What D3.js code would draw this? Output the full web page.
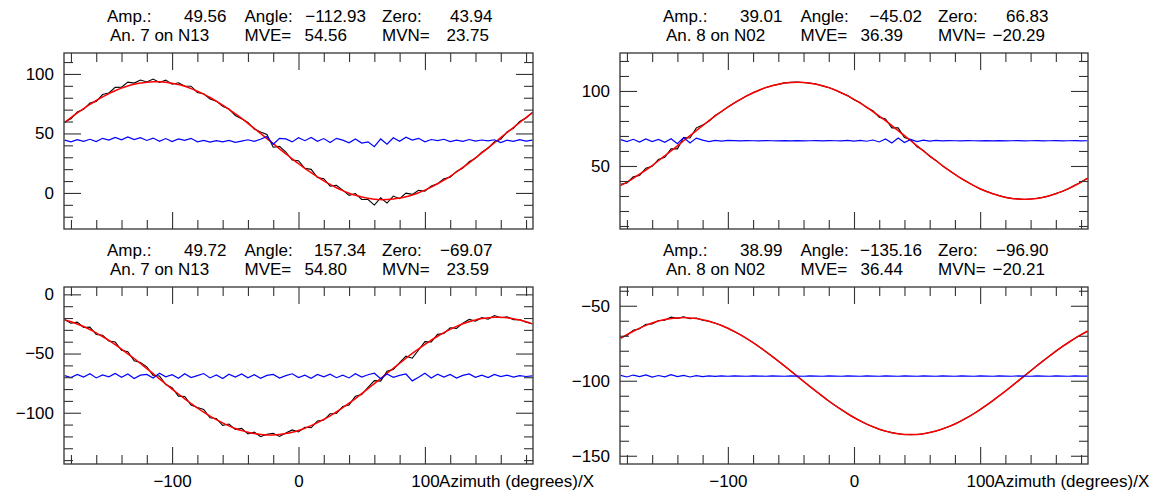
<!DOCTYPE html>
<html><head><meta charset="utf-8">
<script src="https://cdn.jsdelivr.net/npm/d3@7"></script>
<style>
body{margin:0;background:#fff;}
svg{display:block;}
</style>
</head><body>
<svg id="c" width="1166" height="490"></svg>
<script>
// ---------- data ----------
const azimuth = [-185,-180,-175,-170,-165,-160,-155,-150,-145,-140,-135,-130,-125,-120,-115,-110,-105,-100,-95,-90,-85,-80,-75,-70,-65,-60,-55,-50,-45,-40,-35,-30,-25,-20,-15,-10,-5,0,5,10,15,20,25,30,35,40,45,50,55,60,65,70,75,80,85,90,95,100,105,110,115,120,125,130,135,140,145,150,155,160,165,170,175,180,185];

// top-left panel (An. 7 on N13, first)
const fitTL = [59.2,63.3,67.2,70.9,74.4,77.7,80.7,83.5,85.9,88.1,89.9,91.3,92.4,93.1,93.5,93.4,93.0,92.2,91.1,89.6,87.7,85.5,83.0,80.2,77.1,73.8,70.3,66.5,62.6,58.5,54.3,50.0,45.7,41.4,37.1,32.9,28.7,24.6,20.7,17.0,13.5,10.2,7.2,4.4,1.9,-0.2,-2.0,-3.4,-4.5,-5.2,-5.6,-5.5,-5.1,-4.3,-3.2,-1.7,0.2,2.4,4.9,7.7,10.7,14.0,17.6,21.4,25.3,29.4,33.6,37.9,42.2,46.5,50.8,55.0,59.2,63.3,67.2];
const measTL = [59.7,62.3,68.0,70.3,75.6,76.9,82.7,84.0,88.7,88.9,93.1,92.3,94.9,93.3,95.7,92.9,94.8,91.4,92.6,89.9,89.7,84.5,83.3,79.0,77.1,72.8,70.5,65.1,62.3,59.3,53.7,51.2,49.2,38.4,39.1,34.4,27.7,27.1,20.7,19.8,13.0,12.0,5.7,6.4,2.4,-2.0,-0.5,-5.4,-5.5,-10.2,-4.1,-8.5,-2.6,-4.8,-0.2,-1.2,2.2,1.4,5.9,7.7,11.9,13.2,18.1,20.9,26.3,29.1,34.2,37.7,43.0,45.0,51.2,54.4,60.1,63.0,67.7];
const residTL = [44.4,42.9,44.7,43.3,45.1,43.1,45.9,44.4,46.7,44.7,47.1,44.9,46.4,44.1,46.1,43.4,45.7,43.1,45.4,44.2,45.9,42.9,44.2,42.7,43.9,42.9,44.1,42.5,43.6,44.7,43.3,45.1,47.4,40.9,45.9,45.4,42.9,46.4,43.9,46.7,43.4,45.7,42.4,45.9,44.4,42.1,45.4,41.9,42.9,38.9,45.4,40.9,46.4,43.4,46.9,44.4,45.9,42.9,44.9,43.9,45.1,43.1,44.4,43.4,44.9,43.6,44.5,43.7,44.7,42.4,44.3,43.3,44.8,43.6,44.4];

// top-right panel (An. 8 on N02, first)
const fitTR = [37.0,39.3,41.8,44.5,47.3,50.3,53.5,56.8,60.1,63.4,66.8,70.2,73.6,76.9,80.2,83.4,86.4,89.2,91.9,94.4,96.7,98.8,100.6,102.2,103.5,104.5,105.3,105.7,105.8,105.7,105.2,104.5,103.5,102.2,100.6,98.8,96.7,94.4,91.9,89.2,86.3,83.3,80.2,76.9,73.6,70.2,66.8,63.4,60.0,56.7,53.5,50.3,47.3,44.4,41.7,39.2,36.9,34.8,33.0,31.5,30.2,29.2,28.4,28.0,27.8,28.0,28.4,29.2,30.2,31.5,33.1,34.9,37.0,39.3,41.8];
const measTR = [37.8,38.7,42.8,43.7,48.5,49.8,54.4,55.8,61.4,61.4,69.0,68.7,75.4,77.3,79.7,83.7,86.2,89.4,92.0,94.3,96.8,98.8,100.5,102.3,103.5,104.4,105.4,105.7,105.9,105.6,105.2,104.6,103.4,102.3,100.6,98.7,96.9,94.2,92.2,88.9,86.8,82.5,81.4,75.4,75.4,69.0,67.7,62.8,60.4,56.5,53.7,50.2,47.4,44.4,41.6,39.3,36.9,34.7,33.1,31.5,30.3,29.1,28.4,28.1,27.7,28.0,28.5,29.1,30.2,31.6,33.0,34.9,37.1,39.2,41.8];
const residTR = [67.6,66.2,67.8,66.0,68.0,66.3,67.7,65.8,68.1,64.8,69.0,65.3,68.6,67.2,66.3,67.1,66.6,67.0,66.9,66.7,66.9,66.8,66.7,66.9,66.8,66.7,66.9,66.8,66.9,66.7,66.8,66.9,66.7,66.9,66.8,66.7,67.0,66.6,67.1,66.5,67.3,66.0,68.0,65.3,68.6,65.6,67.7,66.2,67.2,66.6,67.0,66.7,66.9,66.8,66.7,66.9,66.8,66.7,66.9,66.8,66.9,66.7,66.8,66.9,66.7,66.8,66.9,66.7,66.8,66.9,66.7,66.8,66.9,66.7,66.8];

// bottom-left panel (An. 7 on N13, second)
const fitBL = [-21.7,-23.2,-25.0,-27.2,-29.7,-32.5,-35.6,-38.9,-42.5,-46.3,-50.2,-54.2,-58.4,-62.7,-67.0,-71.4,-75.7,-80.0,-84.2,-88.3,-92.2,-96.0,-99.5,-102.8,-105.8,-108.6,-111.1,-113.3,-115.1,-116.5,-117.6,-118.4,-118.8,-118.8,-118.4,-117.6,-116.5,-115.0,-113.1,-110.9,-108.4,-105.6,-102.6,-99.3,-95.7,-91.9,-88.0,-83.9,-79.7,-75.4,-71.1,-66.7,-62.4,-58.2,-54.0,-49.9,-46.0,-42.3,-38.7,-35.4,-32.3,-29.6,-27.1,-24.9,-23.1,-21.6,-20.5,-19.8,-19.4,-19.4,-19.8,-20.6,-21.7,-23.2,-25.0];
const measBL = [-21.2,-24.4,-23.5,-28.0,-27.7,-34.0,-34.6,-39.4,-40.3,-47.3,-48.4,-56.2,-57.6,-61.2,-68.5,-68.9,-76.2,-78.8,-86.0,-86.3,-93.4,-95.5,-97.3,-104.3,-104.8,-110.6,-109.5,-114.1,-113.2,-117.9,-116.4,-120.2,-118.2,-117.3,-120.0,-117.2,-114.5,-116.2,-112.3,-112.7,-107.0,-106.2,-100.9,-100.6,-94.8,-93.4,-86.0,-84.7,-78.5,-72.9,-73.3,-64.9,-63.4,-57.6,-52.2,-53.9,-47.0,-39.9,-40.2,-33.8,-33.1,-28.2,-28.7,-24.3,-21.2,-22.6,-19.7,-21.0,-17.9,-19.8,-18.9,-21.4,-21.2,-23.5,-24.8];
const residBL = [-68.6,-70.3,-67.6,-69.9,-67.1,-70.6,-68.1,-69.6,-66.9,-70.1,-67.3,-71.1,-68.3,-67.6,-70.6,-66.6,-69.6,-67.9,-70.9,-67.1,-70.3,-68.6,-66.9,-70.6,-68.1,-71.1,-67.5,-69.9,-67.2,-70.5,-67.9,-70.9,-68.5,-67.6,-70.7,-68.7,-67.1,-70.3,-68.3,-70.9,-67.7,-69.7,-67.4,-70.4,-68.2,-70.6,-67.1,-69.9,-67.9,-66.6,-71.3,-67.3,-70.1,-68.5,-67.3,-73.1,-70.1,-66.7,-70.6,-67.5,-69.9,-67.7,-70.7,-68.5,-67.2,-70.1,-68.3,-70.3,-67.6,-69.5,-68.2,-69.9,-68.6,-69.4,-68.9];

// bottom-right panel (An. 8 on N02, second)
const fitBR = [-71.8,-69.3,-67.0,-64.9,-63.1,-61.5,-60.2,-59.2,-58.5,-58.1,-57.9,-58.1,-58.5,-59.3,-60.3,-61.6,-63.2,-65.0,-67.1,-69.4,-71.9,-74.6,-77.5,-80.5,-83.7,-86.9,-90.2,-93.6,-97.0,-100.4,-103.8,-107.1,-110.3,-113.5,-116.5,-119.3,-122.0,-124.5,-126.8,-128.9,-130.7,-132.3,-133.6,-134.6,-135.3,-135.8,-135.9,-135.8,-135.3,-134.5,-133.5,-132.2,-130.6,-128.8,-126.7,-124.4,-121.9,-119.2,-116.3,-113.3,-110.1,-106.9,-103.6,-100.2,-96.8,-93.4,-90.0,-86.7,-83.5,-80.3,-77.3,-74.5,-71.8,-69.3,-67.0];
const measBR = [-71.3,-69.9,-66.3,-65.3,-62.3,-62.2,-59.8,-59.7,-57.6,-58.4,-57.4,-58.7,-58.2,-59.7,-60.3,-61.6,-63.2,-65.0,-67.1,-69.4,-71.9,-74.6,-77.5,-80.5,-83.7,-86.9,-90.2,-93.6,-97.0,-100.4,-103.8,-107.1,-110.3,-113.5,-116.5,-119.3,-122.0,-124.5,-126.8,-128.9,-130.7,-132.3,-133.6,-134.6,-135.3,-135.8,-135.9,-135.8,-135.3,-134.5,-133.5,-132.2,-130.6,-128.8,-126.7,-124.4,-121.9,-119.2,-116.3,-113.3,-110.1,-106.9,-103.6,-100.2,-96.8,-93.4,-90.0,-86.7,-83.5,-80.3,-77.3,-74.5,-71.8,-69.3,-67.0];
const residBR = [-96.4,-97.5,-96.2,-97.3,-96.1,-97.6,-96.5,-97.4,-96.0,-97.2,-96.4,-97.5,-96.6,-97.3,-96.7,-97.1,-96.8,-97.0,-96.8,-96.9,-97.0,-96.8,-96.9,-97.0,-96.8,-96.9,-97.0,-96.8,-96.9,-97.0,-96.8,-96.9,-97.0,-96.8,-96.9,-97.0,-96.8,-96.9,-97.0,-96.8,-96.9,-97.0,-96.8,-96.9,-97.0,-96.8,-96.9,-97.0,-96.8,-96.9,-97.0,-96.8,-96.9,-97.0,-96.8,-96.9,-97.0,-96.8,-96.9,-97.0,-96.8,-96.9,-97.0,-96.8,-96.9,-97.0,-96.8,-96.9,-97.0,-96.8,-96.9,-97.0,-96.8,-96.9,-96.9];

// ticks
const xMajorTicks = [-100, 0, 100];
const xMinorTicks = [-180,-160,-140,-120,-80,-60,-40,-20,20,40,60,80,120,140,160,180];
const yMajorTL = [0, 50, 100];
const yMinorTL = [-20,-10,10,20,30,40,60,70,80,90,110];
const yMajorTR = [50, 100];
const yMinorTR = [10,20,30,40,60,70,80,90,110,120];
const yMajorBL = [-100, -50, 0];
const yMinorBL = [-140,-130,-120,-110,-90,-80,-70,-60,-40,-30,-20,-10];
const yMajorBR = [-150, -100, -50];
const yMinorBR = [-140,-130,-120,-110,-90,-80,-70,-60,-40];

// header values
const ampValues = [49.56, 39.01, 49.72, 38.99];
const angleValues = [-112.93, -45.02, 157.34, -135.16];
const zeroValues = [43.94, 66.83, -69.07, -96.90];
const antennaLabels = ["An. 7 on N13", "An. 8 on N02", "An. 7 on N13", "An. 8 on N02"];
const mveValues = [54.56, 36.39, 54.80, 36.44];
const mvnValues = [23.75, -20.29, 23.59, -20.21];
const xTitle = "Azimuth (degrees)/X";

// ---------- layout ----------
const FONT = "Liberation Sans, Arial, Helvetica, sans-serif";
const FS = 17;
const panels = [
  {L:64,  T:53,  W:469, H:176, yDom:[-30.3,117.6], xLabels:false, fit:fitTL, meas:measTL, resid:residTL, yMaj:yMajorTL, yMin:yMinorTL},
  {L:620, T:53,  W:468, H:176, yDom:[8,125.3],     xLabels:false, fit:fitTR, meas:measTR, resid:residTR, yMaj:yMajorTR, yMin:yMinorTR},
  {L:64,  T:287, W:469, H:177, yDom:[-143.3,6.2],  xLabels:true,  fit:fitBL, meas:measBL, resid:residBL, yMaj:yMajorBL, yMin:yMinorBL},
  {L:620, T:287, W:468, H:177, yDom:[-155.5,-37.5],xLabels:true,  fit:fitBR, meas:measBR, resid:residBR, yMaj:yMajorBR, yMin:yMinorBR}
];
const MAJ = 17, MIN = 9;
const fmt2 = d3.format(".2f");
const svg = d3.select("#c");

panels.forEach((p, i) => {
  const x = d3.scaleLinear().domain([-185.5, 185.5]).range([p.L, p.L + p.W]);
  const y = d3.scaleLinear().domain(p.yDom).range([p.T + p.H, p.T]);
  const g = svg.append("g");

  g.append("clipPath").attr("id", "clip" + i).append("rect")
    .attr("x", p.L).attr("y", p.T).attr("width", p.W).attr("height", p.H);
  const plot = g.append("g").attr("clip-path", `url(#clip${i})`);

  const lin = d3.line().x((d, j) => x(azimuth[j])).y(d => y(d));
  const smooth = d3.line().x((d, j) => x(azimuth[j])).y(d => y(d)).curve(d3.curveNatural);

  plot.append("path").datum(p.meas).attr("d", lin)
    .attr("fill", "none").attr("stroke", "#000").attr("stroke-width", 1.1);
  plot.append("path").datum(p.fit).attr("d", smooth)
    .attr("fill", "none").attr("stroke", "#ff0000").attr("stroke-width", 1.5);
  plot.append("path").datum(p.resid).attr("d", lin)
    .attr("fill", "none").attr("stroke", "#0000ff").attr("stroke-width", 1.2);

  function addAxis(axis, tx, ty) {
    const a = g.append("g").attr("transform", `translate(${tx},${ty})`).call(axis);
    a.select(".domain").remove();
    a.selectAll("line").attr("stroke", "#333").attr("stroke-width", 1.1);
    a.attr("font-family", FONT).attr("font-size", FS);
    a.selectAll("text").attr("fill", "#000");
    return a;
  }
  const none = () => "";
  // x axes bottom/top
  const xb = addAxis(d3.axisBottom(x).tickValues(xMajorTicks).tickSize(-MAJ).tickSizeOuter(0).tickPadding(11)
      .tickFormat(p.xLabels ? d3.format("d") : none), 0, p.T + p.H);
  addAxis(d3.axisBottom(x).tickValues(xMinorTicks).tickSize(-MIN).tickSizeOuter(0).tickFormat(none), 0, p.T + p.H);
  addAxis(d3.axisTop(x).tickValues(xMajorTicks).tickSize(-MAJ).tickSizeOuter(0).tickFormat(none), 0, p.T);
  addAxis(d3.axisTop(x).tickValues(xMinorTicks).tickSize(-MIN).tickSizeOuter(0).tickFormat(none), 0, p.T);
  // y axes left/right
  addAxis(d3.axisLeft(y).tickValues(p.yMaj).tickSize(-MAJ).tickSizeOuter(0).tickPadding(10).tickFormat(d3.format("d")), p.L, 0);
  addAxis(d3.axisLeft(y).tickValues(p.yMin).tickSize(-MIN).tickSizeOuter(0).tickFormat(none), p.L, 0);
  addAxis(d3.axisRight(y).tickValues(p.yMaj).tickSize(-MAJ).tickSizeOuter(0).tickFormat(none), p.L + p.W, 0);
  addAxis(d3.axisRight(y).tickValues(p.yMin).tickSize(-MIN).tickSizeOuter(0).tickFormat(none), p.L + p.W, 0);

  if (p.xLabels) {
    const t100 = xb.selectAll(".tick").filter(d => d === 100).select("text").node();
    const w = t100.getComputedTextLength();
    g.append("text").attr("x", x(100) + w / 2).attr("y", p.T + p.H + 11).attr("dy", "0.71em")
      .attr("font-family", FONT).attr("font-size", FS).attr("fill", "#000").text(xTitle);
  }

  // frame
  g.append("rect").attr("x", p.L).attr("y", p.T).attr("width", p.W).attr("height", p.H)
    .attr("fill", "none").attr("stroke", "#333").attr("stroke-width", 1.3);

  // header
  const h = g.append("g").attr("font-family", FONT).attr("font-size", FS).attr("fill", "#000");
  const y1 = p.T - 31, y2 = p.T - 12;
  const put = (txt, xx, yy, anchor) => h.append("text").attr("x", p.L + xx).attr("y", yy)
      .attr("text-anchor", anchor).text(txt);
  put("Amp.:", 43, y1, "start");
  put(fmt2(ampValues[i]), 162.5, y1, "end");
  put("Angle:", 180.5, y1, "start");
  put(fmt2(angleValues[i]), 302, y1, "end");
  put("Zero:", 318, y1, "start");
  put(fmt2(zeroValues[i]), 428.5, y1, "end");
  put(antennaLabels[i], 46, y2, "start");
  put("MVE=", 180.5, y2, "start");
  put(fmt2(mveValues[i]), 283, y2, "end");
  put("MVN=", 318, y2, "start");
  put(fmt2(mvnValues[i]), 425, y2, "end");
});
</script>
</body></html>
